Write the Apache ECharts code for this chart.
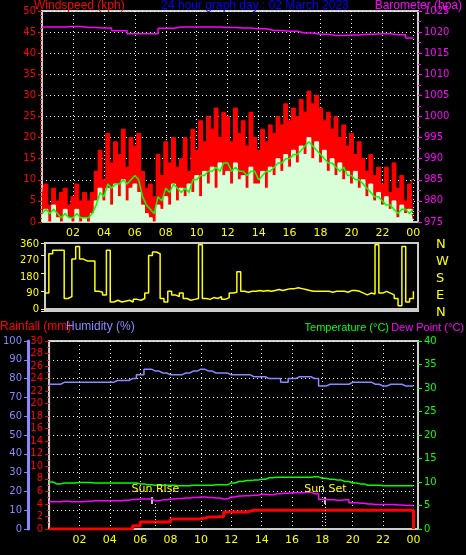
<!DOCTYPE html>
<html><head><meta charset="utf-8">
<script src="https://cdn.jsdelivr.net/npm/echarts@6/dist/echarts.min.js"></script>
<style>html,body{margin:0;padding:0;background:#000}#c{width:466px;height:555px}</style>
</head><body><div id="c"></div>
<script>
// 15-minute wind data (kph), hour 0..24
const gust = [6,9,4,8, 5,7,8,4, 6,9,5,7, 5,7,12,17,
 10,21,14,19, 16,22,13,20, 18,21,12,8, 9,6,16,11,
 19,14,20,13, 15,20,12,22, 17,24,19,25, 22,27,20,26,
 25,19,27,21, 24,18,26,20, 17,22,19,23, 21,25,23,28,
 24,27,25,29, 26,31,28,30, 27,24,26,22, 25,20,23,18,
 21,16,19,15, 12,16,11,13, 9,13,7,14, 8,11,5,9, 10];
const windAvg = [2,3,2,3, 2,1,2,1, 1,2,1,1, 1,2,4,7,
 6,9,8,9, 9,10,9,10, 11,10,6,4, 3,2,6,5,
 8,7,9,8, 7,8,7,10, 10,11,11,12, 12,13,12,14,
 14,12,13,12, 12,11,12,12, 10,11,12,12, 13,14,14,15,
 15,16,16,17, 18,19,18,17, 16,15,14,14, 13,12,13,11,
 11,10,10,9, 8,7,6,6, 5,4,4,3, 2,3,3,2, 3];
const windSpeed = [1,3,0,4, 1,0,3,1, 0,3,0,1, 0,2,5,8,
 5,8,4,9, 6,10,5,8, 9,7,4,2, 1,0,4,3,
 6,4,9,5, 8,6,9,7, 11,6,12,9, 13,8,14,11,
 12,9,14,10, 11,8,13,9, 9,12,8,13, 11,15,12,16,
 13,17,14,18, 16,20,15,19, 14,17,12,15, 11,14,10,12,
 9,12,8,10, 6,9,5,7, 4,6,3,5, 1,4,2,3, 2];
const direction = [90,310,330,330, 330,60,70,280, 350,280,270,270, 270,100,95,80,
 330,40,50,40, 45,50,40,55, 50,60,90,300, 320,310,60,40,
 100,80,70,90, 60,50,55,60, 360,60,55,65, 60,70,55,65,
 90,95,210,100, 95,100,100,105, 100,105,100,105, 110,105,110,115,
 115,120,115,110, 105,100,100,100, 100,100,95,100, 100,100,95,105,
 105,100,90,80, 90,85,360,90, 100,90,80,60, 20,350,40,60, 100];
// hourly barometer (hPa)
const barometer = [1021.2,1021.2,1021.3,1021.1,1021.0,1020.3,1019.6,1019.6,1020.9,1021.2,1021.2,1021.2,1021.1,1021.0,1020.8,1020.4,1020.2,1019.8,1019.5,1019.2,1019.3,1019.5,1019.6,1019.4,1018.6];
// 30-minute values
const humidity = [77,77,78,78,78,78,78,78,78,79,79,80, 82,85,84,83,82,82,83,84,85,84,83,83,
 82,82,82,81,81,80,80,78,80,81,81,80, 76,77,77,77,78,78,78,77,76,77,77,76, 76];
const temperature = [10,9.6,9.8,9.8,9.9,9.9,9.8,9.8,9.8,9.8,9.8,9.8, 9.6,9.4,9.3,9.3,9.3,9.2,9.2,9.3,9.3,9.3,9.4,9.4,
 9.8,10.1,10.3,10.4,10.6,10.9,11,11,11,11,11,11.1, 10.8,10.6,10.4,10.1,9.8,9.6,9.3,9.3,9.2,9.2,9.2,9.2, 9.2];
const dewPoint = [5.8,5.8,5.9,5.8,5.8,5.9,6.0,6.0,6.0,6.0,6.1,6.3, 6.4,6.4,6.0,6.2,6.4,6.5,6.6,6.7,6.8,6.7,6.6,6.4,
 6.8,7.0,7.1,7.2,7.4,7.3,7.5,7.6,7.7,7.7,7.8,7.5, 6.3,6.2,6.1,6.2,5.6,5.5,5.3,5.2,5.2,5.2,5.1,5.0, 5.0];
const rainfall = [0,0,0,0,0,0,0,0,0,0,0,0.5, 1.1,1.1,1.1,1.1,1.6,1.6,1.6,1.6,1.9,1.9,2.0,2.7,
 2.7,2.7,3.0,3.0,3.0,3.0,3.0,3.0,3.0,3.0,3.0,3.0, 3.0,3.0,3.0,3.0,3.0,3.0,3.0,3.0,3.0,3.0,3.0,3.0, 0];
const hourTicks = ['02','04','06','08','10','12','14','16','18','20','22','00'];
const sunRise = 7.0, sunSet = 18.2;

const pair = (arr, step) => arr.map((v, i) => [i * step, v]);
const F = 'DejaVu Sans';
const TF = 'Liberation Sans';
const dot = {show:true, lineStyle:{color:'#fff', type:[1,3], width:1}};
function xa(gi, showLabel, pos){
  return {type:'value', gridIndex:gi, min:0, max:24.3, interval:2, position:pos,
    axisLine:{show:true, lineStyle:{color:'#ccc', width:2}}, axisTick:{show:false},
    axisLabel:{show:showLabel, color:'#ff0', fontFamily:F, fontSize:11, margin:6,
      formatter:v => (v === 0 ? '' : hourTicks[v/2 - 1] || '')},
    splitLine: gi === 1 ? {show:false} : dot};
}
const axTick = c => ({show:true, length:4, lineStyle:{color:c}});
const txt = (s, x, y, c, align, fs) => ({type:'text', x:x, y:y, z:100,
  style:{text:s, fill:c, font:(fs||12)+'px '+TF, textAlign:align||'left', textVerticalAlign:'top'}});
const opt = {
  backgroundColor:'#000', animation:false,
  textStyle:{fontFamily:F},
  graphic:['N','W','S','E','N'].map((t,i)=>({type:'text', left:436, top:238+i*17,
    style:{text:t, fill:'#ff0', font:'13px '+F}})).concat([
    txt('Windspeed (kph)', 34, 0, '#f00'),
    txt('24 hour graph day : 02 March 2023', 255, 0, '#00f', 'center'),
    txt('Barometer (hpa)', 462, 0, '#f0f', 'right'),
    txt('Rainfall (mm)', 0, 321, '#f00'),
    txt('Humidity (%)', 66, 321, '#88f'),
    txt('Temperature (°C)', 389, 322, '#0f0', 'right', 11),
    txt('Dew Point (°C)', 464, 322, '#f0f', 'right', 11),
    {type:'line', shape:{x1:152,y1:497,x2:152,y2:504}, style:{stroke:'#fff', lineWidth:1.5}},
    {type:'line', shape:{x1:325,y1:497,x2:325,y2:504}, style:{stroke:'#fff', lineWidth:1.5}}]),
  grid:[
    {left:42, right:48, top:11, height:211, show:true, borderColor:'#ccc', borderWidth:2},
    {left:45, right:48, top:243, height:68, show:true, borderColor:'#ccc', borderWidth:2},
    {left:43, right:48, top:341, height:188, show:true, borderColor:'#ccc', borderWidth:2}
  ],
  xAxis:[xa(0,true,'bottom'), xa(1,false,'top'), xa(2,true,'bottom')],
  yAxis:[
    {type:'value', gridIndex:0, min:0, max:50, interval:5, position:'left',
      axisLine:{show:true, lineStyle:{color:'#ccc', width:2}}, axisTick:axTick('#f00'),
      minorTick:{show:true, splitNumber:5, length:2, lineStyle:{color:'#f00'}},
      axisLabel:{color:'#f00', fontSize:10, margin:6}, splitLine:dot},
    {type:'value', gridIndex:0, min:975, max:1025, interval:5, position:'right',
      axisLine:{show:true, lineStyle:{color:'#ccc', width:2}}, axisTick:axTick('#f0f'),
      minorTick:{show:true, splitNumber:2, length:3, lineStyle:{color:'#f0f'}},
      axisLabel:{color:'#f0f', fontSize:10, margin:6, formatter:v => String(v)}, splitLine:{show:false}},
    {type:'value', gridIndex:1, min:-10, max:370, position:'left',
      axisLine:{show:true, lineStyle:{color:'#ccc', width:2}}, axisTick:axTick('#ff0'),
      axisLabel:{color:'#ff0', fontSize:10, margin:6, customValues:[0,90,180,270,360]},
      customValues:[0,90,180,270,360], splitLine:{show:false}},
    {type:'value', gridIndex:2, min:0, max:30, interval:2, position:'left',
      axisLine:{show:true, lineStyle:{color:'#ccc', width:2}}, axisTick:axTick('#f00'),
      minorTick:{show:true, splitNumber:2, length:2, lineStyle:{color:'#f00'}},
      axisLabel:{color:'#f00', fontSize:10, margin:6}, splitLine:{show:false}},
    {type:'value', gridIndex:2, min:0, max:100, interval:10, position:'left', offset:21,
      axisLine:{show:true, lineStyle:{color:'#88f', width:3}}, axisTick:axTick('#88f'),
      axisLabel:{color:'#88f', fontSize:10, margin:6}, splitLine:dot},
    {type:'value', gridIndex:2, min:0, max:40, interval:5, position:'right',
      axisLine:{show:true, lineStyle:{color:'#ccc', width:2}}, axisTick:axTick('#0f0'),
      axisLabel:{color:'#0f0', fontSize:10, margin:6}, splitLine:{show:false}}
  ],
  series:[
    {type:'line', xAxisIndex:0, yAxisIndex:0, data:pair(gust,0.25), step:'middle', symbol:'none',
      lineStyle:{color:'#f00', width:1}, areaStyle:{color:'#f00', opacity:1}},
    {type:'line', xAxisIndex:0, yAxisIndex:0, data:pair(windSpeed,0.25), step:'middle', symbol:'none',
      lineStyle:{color:'#d8ffd8', width:1}, areaStyle:{color:'#d8ffd8', opacity:1}},
    {type:'line', xAxisIndex:0, yAxisIndex:0, data:pair(windAvg,0.25), symbol:'none',
      lineStyle:{color:'#0f0', width:1.5}},
    {type:'line', xAxisIndex:0, yAxisIndex:1, data:pair(barometer,1), step:'middle', symbol:'none',
      lineStyle:{color:'#f0f', width:1.5}},
    {type:'line', xAxisIndex:1, yAxisIndex:2, data:pair(direction,0.25), step:'end', symbol:'none',
      lineStyle:{color:'#ff0', width:1.5}},
    {type:'line', xAxisIndex:2, yAxisIndex:4, data:pair(humidity,0.5), step:'middle', symbol:'none',
      lineStyle:{color:'#88f', width:1.5}},
    {type:'line', xAxisIndex:2, yAxisIndex:5, data:pair(temperature,0.5), step:'middle', symbol:'none',
      lineStyle:{color:'#0f0', width:1.5}},
    {type:'line', xAxisIndex:2, yAxisIndex:5, data:pair(dewPoint,0.5), step:'middle', symbol:'none',
      lineStyle:{color:'#f0f', width:1.5}},
    {type:'line', xAxisIndex:2, yAxisIndex:3, data:pair(rainfall,0.5), step:'end', symbol:'none',
      lineStyle:{color:'#f00', width:3},
      markLine:{symbol:'none', silent:true,
        lineStyle:{color:'#ff0', type:[1,2], width:1},
        label:{show:true, position:'end', color:'#ff0', fontSize:11, fontFamily:F, distance:8},
        data:[
          [{coord:[sunRise,0]},{coord:[sunRise,4.2], name:'Sun Rise', label:{formatter:'Sun Rise'}}],
          [{coord:[sunSet,0]},{coord:[sunSet,4.2], name:'Sun Set', label:{formatter:'Sun Set'}}]
        ]}}
  ]
};
echarts.init(document.getElementById('c')).setOption(opt);
</script></body></html>
